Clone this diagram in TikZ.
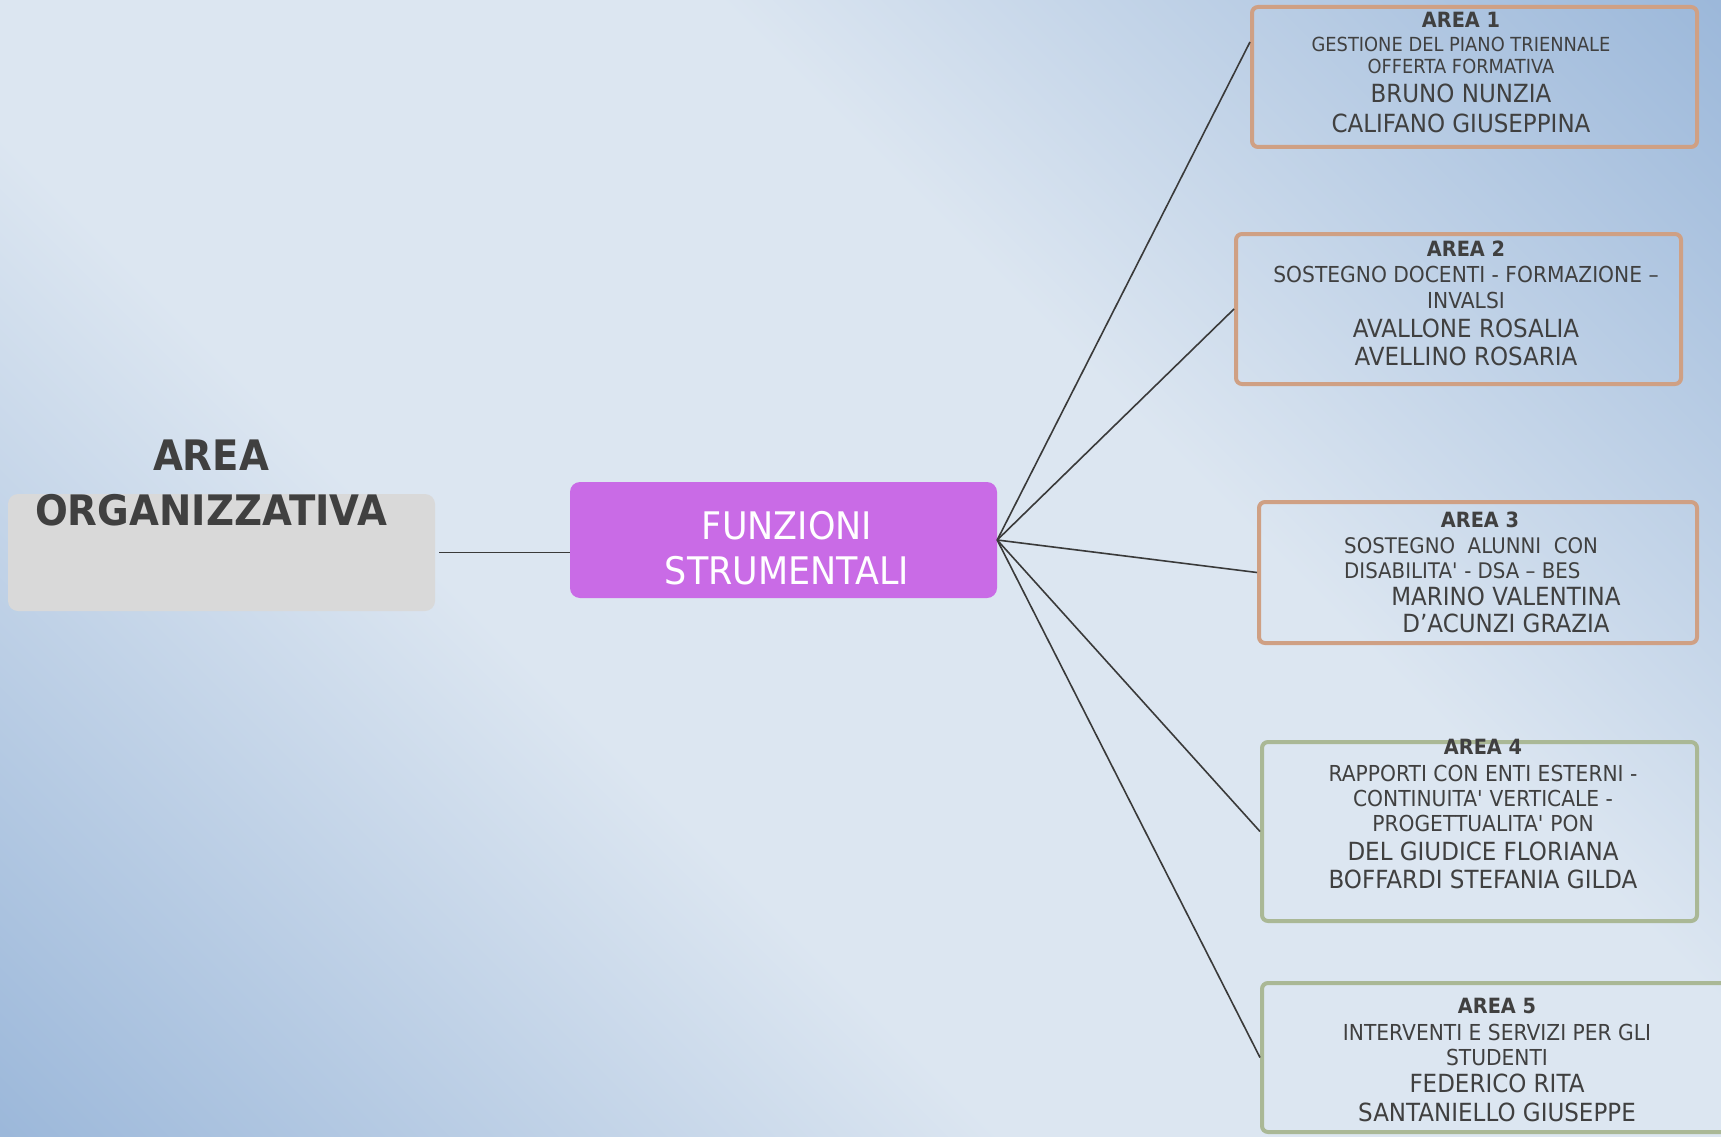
\documentclass[tikz,border=0pt]{standalone}
\usepackage{fontspec}
\setmainfont{DejaVu Sans}[FakeStretch=0.92]
\usetikzlibrary{shapes}
\usetikzlibrary{positioning}

\definecolor{bglight}{RGB}{220,230,241}
\definecolor{bgdark}{RGB}{156,184,218}
\definecolor{inkgray}{RGB}{64,64,64}
\definecolor{tanline}{RGB}{207,160,132}
\definecolor{sageline}{RGB}{170,184,150}
\definecolor{orchid}{RGB}{201,107,230}
\definecolor{boxgray}{RGB}{217,217,217}
\definecolor{wirecol}{RGB}{58,58,58}

\pgfdeclareverticalshading{skyshade}{100bp}{color(0bp)=(bgdark); color(14.6bp)=(bgdark); color(39.4bp)=(bglight); color(60.6bp)=(bglight); color(85.4bp)=(bgdark); color(100bp)=(bgdark)}

\newcommand{\areatitle}[1]{{\bfseries\fontsize{21}{24}\selectfont #1}}
\newcommand{\areaname}[1]{{\fontsize{25}{24}\selectfont #1}}

\begin{document}
\begin{tikzpicture}[x=1pt,y=-1pt,
	wire/.style={draw=wirecol,line width=1.6pt},
	area box/.style={rectangle,rounded corners=6pt,draw=tanline,line width=4pt,inner sep=0pt},
	green box/.style={area box,draw=sageline},
	area text/.style={align=center,anchor=north,inner sep=0pt,text=inkgray,font=\fontsize{22}{24}\selectfont}]
		
		\useasboundingbox (0,0) rectangle (1721,1137);
		\shade[shading=skyshade,shading angle=-45] (0,0) rectangle (1721,1137);
		
		\node[rectangle,rounded corners=10pt,fill=boxgray,minimum width=427pt,minimum height=117pt] at (221.5,552.5) (org) {};
		\node[rectangle,rounded corners=10pt,fill=orchid,minimum width=427pt,minimum height=116pt] at (783.5,540) (fs) {};
		
		\node[area box,minimum width=445pt,minimum height=140pt] at (1474.5,77) (a1) {};
		\node[area box,minimum width=445pt,minimum height=150pt] at (1458.5,309) (a2) {};
		\node[area box,minimum width=438pt,minimum height=141pt] at (1478,572.5) (a3) {};
		\node[green box,minimum width=435pt,minimum height=179pt] at (1479.5,831.5) (a4) {};
		\node[green box,minimum width=466pt,minimum height=149pt] at (1495,1057.5) (a5) {};
		
		\node[area text,font=\bfseries\fontsize{42}{55}\selectfont] at (211,439.4) (orgtext) {AREA\\ORGANIZZATIVA};
		\node[area text,text=white,font=\fontsize{38}{45}\selectfont] at (787,511.3) (fstext) {FUNZIONI\\STRUMENTALI};
		
		\node[area text,font=\fontsize{19.4}{24}\selectfont] at (1461,12.2) (t1) {\areatitle{AREA 1}\\ GESTIONE DEL PIANO TRIENNALE\\[-2pt] OFFERTA FORMATIVA\\[4.5pt] \areaname{BRUNO NUNZIA}\\[6pt] \areaname{CALIFANO GIUSEPPINA}};
		\node[area text] at (1466,241.2) (t2) {\areatitle{AREA 2}\\[1.5pt] SOSTEGNO DOCENTI - FORMAZIONE –\\[2pt] INVALSI\\[5pt] \areaname{AVALLONE ROSALIA}\\[4pt] \areaname{AVELLINO ROSARIA}};
		\node[area text] at (1480,512.2) (t3) {\areatitle{AREA 3}};
		\node[area text,anchor=north west,align=left,font=\fontsize{21.5}{25}\selectfont] at (1344,537.3) (t3b) {SOSTEGNO\ \ ALUNNI\ \ CON\\ DISABILITA\textquotesingle{} - DSA – BES};
		\node[area text] at (1506,586.8) (t3c) {\areaname{MARINO VALENTINA}\\[3pt] \areaname{D’ACUNZI GRAZIA}};
		\node[area text] at (1483,739.2) (t4) {\areatitle{AREA 4}\\[2.5pt] RAPPORTI CON ENTI ESTERNI -\\[1pt] CONTINUITA\textquotesingle{} VERTICALE -\\[1pt] PROGETTUALITA\textquotesingle{} PON\\[5pt] \areaname{DEL GIUDICE FLORIANA}\\[4pt] \areaname{BOFFARDI STEFANIA GILDA}};
		\node[area text] at (1497,998.2) (t5) {\areatitle{AREA 5}\\[2.5pt] INTERVENTI E SERVIZI PER GLI\\[1pt] STUDENTI\\[3pt] \areaname{FEDERICO RITA}\\[5pt] \areaname{SANTANIELLO GIUSEPPE}};
		
		\path
		(org.east) edge[wire,shorten <=4pt] (org.east -| fs.west)
		(fs.east) edge[wire] ([yshift=35pt]a1.west)
		(fs.east) edge[wire] (a2.west)
		(fs.east) edge[wire] (a3.west)
		(fs.east) edge[wire] (a4.west)
		(fs.east) edge[wire] (a5.west)
		;
		
\end{tikzpicture}
\end{document}
